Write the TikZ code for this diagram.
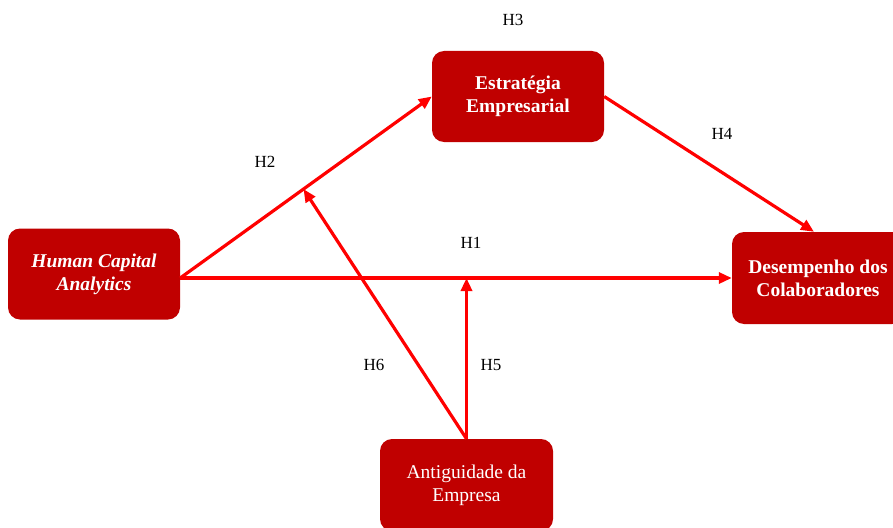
\documentclass[tikz,border=0pt]{standalone}
\usepackage{fontspec}
\setmainfont{Liberation Serif}
\usetikzlibrary{arrows.meta,calc}
\definecolor{boxred}{HTML}{C00000}
\definecolor{arrred}{HTML}{FF0000}
\begin{document}
\begin{tikzpicture}[x=1pt,y=-1pt,
  box/.style={draw=none,fill=boxred,rounded corners=12pt,minimum width=172pt,minimum height=91pt,
    text=white,align=center,font=\fontsize{19.5}{23}\selectfont,inner sep=0pt},
  conn/.style={draw=arrred,line width=3.2pt,-{Triangle[length=13pt,width=11pt]}},
  lab/.style={font=\fontsize{17}{20}\selectfont,inner sep=0pt}]
\useasboundingbox (0,0) rectangle (893,527);
\begin{scope}
\clip (0,0) rectangle (893,527);
\node[box] (hca) at (94,274) {\textbf{\textit{Human Capital}}\\\textbf{\textit{Analytics}}};
\node[box] (est) at (518,96.5) {\textbf{Estratégia}\\\textbf{Empresarial}};
\node[box,minimum height=92pt] (des) at (818,278) {\textbf{Desempenho dos}\\\textbf{Colaboradores}};
\node[box,minimum width=173pt,minimum height=92pt] (ant) at (466.5,485) {Antiguidade da\\Empresa};
\end{scope}
\coordinate (s) at (hca.east |- des.west);
\coordinate (m5) at (ant.north |- des.west);
\coordinate (m6) at ($(s)!0.49!(est.west)$);
\draw[conn] (s) -- (des.west);
\draw[conn] (s) -- (est.west);
\draw[conn] (est.east) -- ([xshift=-4pt]des.north);
\draw[conn] (ant.north) -- (m5);
\draw[conn] (ant.north) -- (m6);
\node[lab] (h3) at (513,20) {H3};
\node[lab] (h2) at (265,162) {H2};
\node[lab] (h4) at (722,134) {H4};
\node[lab] (h1) at (471,243) {H1};
\node[lab] (h6) at (374,365) {H6};
\node[lab] (h5) at (491,365) {H5};
\end{tikzpicture}
\end{document}
